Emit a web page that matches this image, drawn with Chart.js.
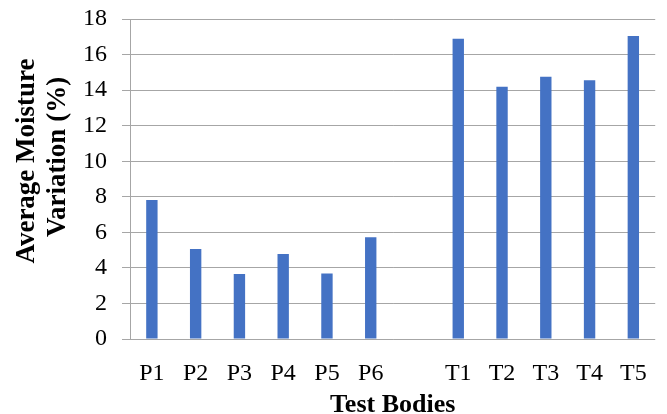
<!DOCTYPE html>
<html>
<head>
<meta charset="utf-8">
<script src="https://cdn.jsdelivr.net/npm/chart.js@4/dist/chart.umd.min.js"></script>
<style>
  html, body { margin: 0; padding: 0; background: #ffffff; }
  canvas { display: block; }
</style>
</head>
<body>
<canvas id="chart" width="667" height="414"></canvas>
<script>
// Test bodies (blank slot separates the P and T groups)
const categories = ['P1', 'P2', 'P3', 'P4', 'P5', 'P6', '', 'T1', 'T2', 'T3', 'T4', 'T5'];
// Average moisture variation, percent
const moistureVariation = [7.82, 5.06, 3.66, 4.78, 3.69, 5.72, null, 16.89, 14.19, 14.75, 14.55, 17.04];
// Value axis range and step
const yMin = 0;
const yMax = 18;
const yStep = 2;
// Axis titles
const yTitleLines = ['Average Moisture', 'Variation (%)'];
const xTitle = 'Test Bodies';

const serif = '"Liberation Serif", "Times New Roman", serif';
const gridGray = '#a6a6a6';

// Two-line rotated value-axis title, set a little above the plot's middle
const yTitlePlugin = {
  id: 'yTitle',
  afterDraw(chart) {
    const ctx = chart.ctx;
    const top = chart.chartArea.top;
    const baselines = [34, 65];
    const centres = [top + 142, top + 138];
    ctx.save();
    ctx.fillStyle = '#000000';
    ctx.font = 'bold 27px ' + serif;
    ctx.textAlign = 'center';
    ctx.textBaseline = 'alphabetic';
    yTitleLines.forEach((line, i) => {
      ctx.save();
      ctx.translate(baselines[i], centres[i]);
      ctx.rotate(-Math.PI / 2);
      ctx.fillText(line, 0, 0);
      ctx.restore();
    });
    ctx.restore();
  }
};

new Chart(document.getElementById('chart'), {
  type: 'bar',
  data: {
    labels: categories,
    datasets: [{
      data: moistureVariation,
      backgroundColor: '#4472c4',
      borderWidth: 0,
      barPercentage: 0.26,
      categoryPercentage: 1.0
    }]
  },
  options: {
    responsive: false,
    animation: false,
    devicePixelRatio: 1,
    layout: { padding: { top: 19, right: 8, bottom: 0, left: 0 } },
    plugins: {
      legend: { display: false },
      tooltip: { enabled: false }
    },
    scales: {
      x: {
        grid: { display: false, drawTicks: false, tickLength: 0 },
        border: { display: false },
        ticks: {
          color: '#000000',
          font: { family: serif, size: 24 },
          padding: 20,
          maxRotation: 0,
          autoSkip: false
        },
        title: {
          display: true,
          text: xTitle,
          color: '#000000',
          font: { family: serif, size: 26, weight: 'bold', lineHeight: 1 },
          padding: { top: 0, bottom: -4 }
        },
        afterFit(scale) { scale.height = 75; }
      },
      y: {
        min: yMin,
        max: yMax,
        grid: {
          color: gridGray,
          lineWidth: 1,
          tickLength: 8,
          drawTicks: true
        },
        border: { display: true, color: gridGray, width: 1 },
        ticks: {
          stepSize: yStep,
          color: '#000000',
          font: { family: serif, size: 24 },
          padding: 15
        },
        afterFit(scale) {
          scale.width = 130;
          scale.paddingTop = 0;
          scale.paddingBottom = 0;
        }
      }
    }
  },
  plugins: [yTitlePlugin]
});
</script>
</body>
</html>
